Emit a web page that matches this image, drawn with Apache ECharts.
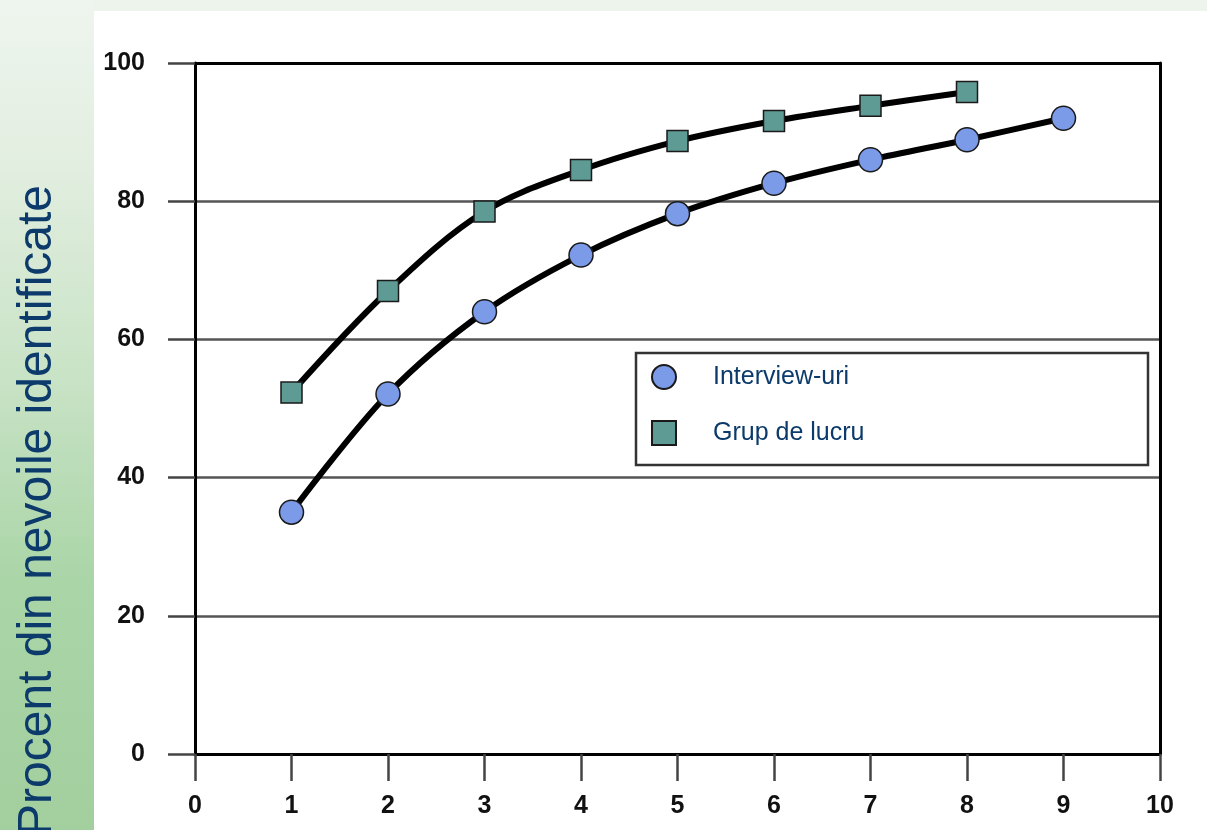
<!DOCTYPE html>
<html>
<head>
<meta charset="utf-8">
<script src="https://cdn.jsdelivr.net/npm/echarts@6/dist/echarts.min.js"></script>
<style>
html,body{margin:0;padding:0;width:1207px;height:830px;overflow:hidden;background:#ffffff;}
#bgtop{position:absolute;left:0;top:0;width:1207px;height:11px;background:#edf4ec;}
#bgleft{position:absolute;left:0;top:0;width:94px;height:830px;background:linear-gradient(to bottom,#eef5ee 0%,#e2eee0 20%,#c9e3c6 45%,#aad5a7 70%,#a3cf9f 100%);}
#chart{position:absolute;left:0;top:0;width:1207px;height:830px;}
</style>
</head>
<body>
<div id="bgtop"></div>
<div id="bgleft"></div>
<div id="chart"></div>
<script>
const xValues = [1, 2, 3, 4, 5, 6, 7, 8, 9];
const interviewValues = [35.0, 52.1, 64.0, 72.2, 78.2, 82.6, 86.0, 88.9, 92.0];
const grupValues = [52.3, 67.0, 78.5, 84.5, 88.7, 91.6, 93.8, 95.8];
const seriesNames = ['Interview-uri', 'Grup de lucru'];
const yTitle = 'Procent din nevoile identificate';

const FONT = '"Liberation Sans", Arial, sans-serif';
const chart = echarts.init(document.getElementById('chart'), null, {renderer: 'canvas'});

const toPairs = (vals) => vals.map((v, i) => [xValues[i], v]);

chart.setOption({
  animation: false,
  backgroundColor: 'transparent',
  grid: {left: 195, right: 47, top: 63, bottom: 76, containLabel: false},
  graphic: [{
    type: 'text',
    x: 62, y: 836,
    rotation: Math.PI / 2,
    style: {
      text: yTitle,
      font: '48px ' + FONT,
      fill: '#0b3a6b',
      textAlign: 'left',
      textVerticalAlign: 'bottom'
    }
  }],
  legend: {
    orient: 'vertical',
    left: 636, top: 353,
    padding: [11, 235, 19, 15],
    itemWidth: 24, itemHeight: 24, itemGap: 30,
    borderColor: '#333', borderWidth: 2.5,
    backgroundColor: '#fff',
    textStyle: {fontFamily: FONT, fontSize: 25, color: '#0b3a6b', padding: [0, 0, 0, 32], width: 200, lineHeight: 22},
    data: [{name: seriesNames[0], icon: 'circle'}, {name: seriesNames[1], icon: 'rect'}]
  },
  xAxis: [{
    type: 'value', min: 0, max: 10, interval: 1,
    axisLine: {show: true, lineStyle: {color: '#000', width: 3}},
    axisTick: {show: true, length: 27, lineStyle: {color: '#444', width: 2.5}},
    axisLabel: {margin: 40, fontFamily: FONT, fontSize: 25, fontWeight: 'bold', color: '#111'},
    splitLine: {show: false}
  }, {
    type: 'value', min: 0, max: 10, interval: 1, position: 'top',
    axisLine: {show: true, onZero: false, lineStyle: {color: '#000', width: 3}},
    axisTick: {show: false}, axisLabel: {show: false}, splitLine: {show: false}
  }],
  yAxis: [{
    type: 'value', min: 0, max: 100, interval: 20,
    axisLine: {show: true, onZero: false, lineStyle: {color: '#000', width: 3}},
    axisTick: {show: true, length: 27, lineStyle: {color: '#444', width: 2.5}},
    axisLabel: {margin: 50, fontFamily: FONT, fontSize: 25, fontWeight: 'bold', color: '#111'},
    splitLine: {show: true, lineStyle: {color: '#555', width: 2.5}}
  }, {
    type: 'value', min: 0, max: 100, interval: 20, position: 'right',
    axisLine: {show: true, onZero: false, lineStyle: {color: '#000', width: 3}},
    axisTick: {show: false}, axisLabel: {show: false}, splitLine: {show: false}
  }],
  series: [{
    name: seriesNames[0], type: 'line', smooth: 0.35,
    data: toPairs(interviewValues),
    symbol: 'circle', symbolSize: 24,
    lineStyle: {color: '#000', width: 6},
    itemStyle: {color: '#7b9ae8', borderColor: '#1a1a1a', borderWidth: 1.5},
    z: 5
  }, {
    name: seriesNames[1], type: 'line', smooth: 0.35,
    data: toPairs(grupValues),
    symbol: 'rect', symbolSize: 21,
    lineStyle: {color: '#000', width: 6},
    itemStyle: {color: '#5f9b95', borderColor: '#1a1a1a', borderWidth: 1.5},
    z: 5
  }]
});
</script>
</body>
</html>
